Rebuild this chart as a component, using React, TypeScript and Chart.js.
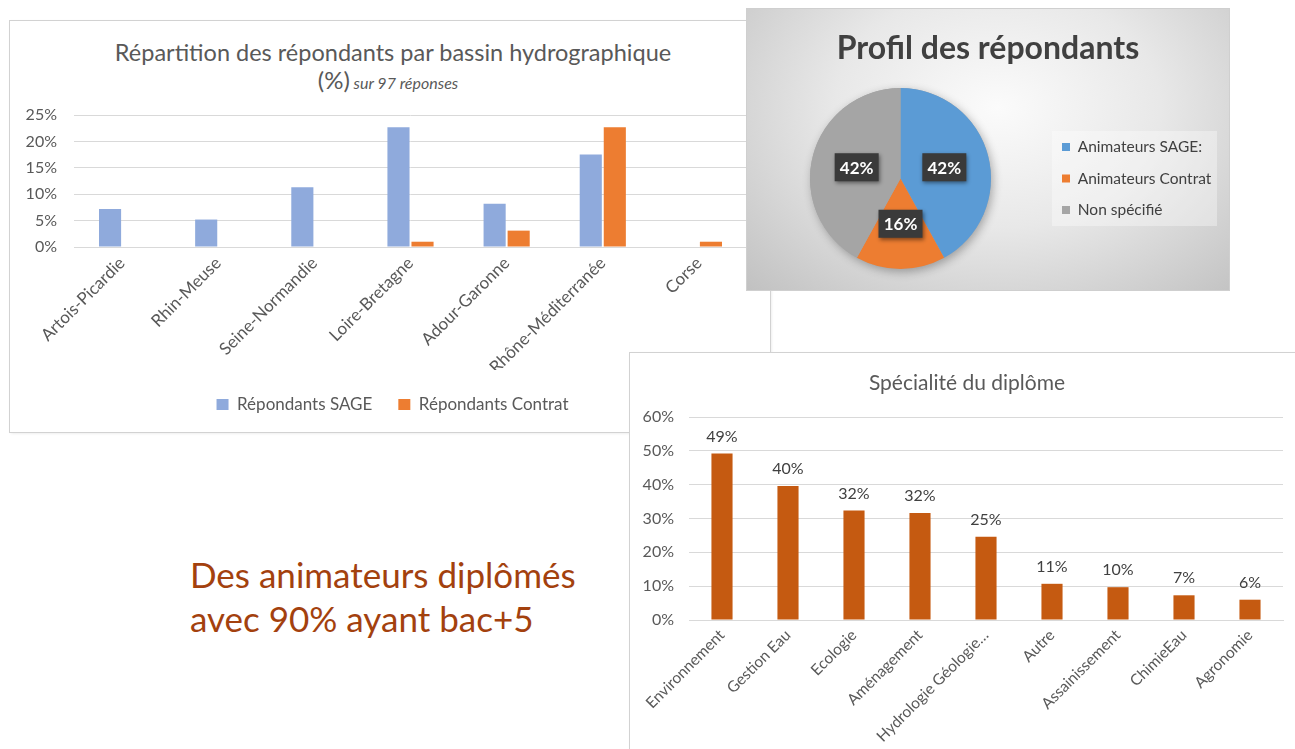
import React, { useEffect, useRef } from 'react';
import { Chart, registerables } from 'chart.js';

Chart.register(...registerables);

const FONT = 'Lato, "Open Sans", sans-serif';
Chart.defaults.font.family = FONT;
Chart.defaults.color = '#595959';

// ---- Chart 1: Répartition par bassin hydrographique ----
const basinCategories = [
  'Artois-Picardie',
  'Rhin-Meuse',
  'Seine-Normandie',
  'Loire-Bretagne',
  'Adour-Garonne',
  'Rhône-Méditerranée',
  'Corse',
];
const sageValues = [7.2, 5.2, 11.3, 22.7, 8.2, 17.5, null];
const contratValues = [null, null, null, 1.0, 3.1, 22.7, 1.0];
const basinSeriesNames = ['Répondants SAGE', 'Répondants Contrat'];
const basinMax = 25;
const basinStep = 5;

// ---- Chart 2: Profil des répondants ----
const profileLabels = ['Animateurs SAGE:', 'Animateurs Contrat', 'Non spécifié'];
const profileValues = [42, 16, 42];
const profileColors = ['#5B9BD5', '#ED7D31', '#A5A5A5'];

// ---- Chart 3: Spécialité du diplôme ----
const diplomaCategories = [
  'Environnement',
  'Gestion Eau',
  'Ecologie',
  'Aménagement',
  'Hydrologie Géologie…',
  'Autre',
  'Assainissement',
  'ChimieEau',
  'Agronomie',
];
const diplomaValues = [49.2, 39.6, 32.4, 31.6, 24.6, 10.7, 9.7, 7.3, 6.0];
const diplomaMax = 60;
const diplomaStep = 10;

const pct = (v: any) => v + '%';

const legendShiftPlugin = {
  id: 'legendShift',
  afterLayout(chart: any) {
    const lg = chart.legend;
    if (!lg) return;
    lg.left += 14;
    lg.right += 14;
  },
};

const pieShadowPlugin = {
  id: 'pieShadow',
  beforeDatasetsDraw(chart: any) {
    const arc = chart.getDatasetMeta(0).data[0];
    if (!arc) return;
    const ctx = chart.ctx;
    ctx.save();
    ctx.shadowColor = 'rgba(0,0,0,0.3)';
    ctx.shadowBlur = 10;
    ctx.shadowOffsetX = 2;
    ctx.shadowOffsetY = 3;
    ctx.fillStyle = '#a5a5a5';
    ctx.beginPath();
    ctx.arc(arc.x, arc.y, arc.outerRadius, 0, Math.PI * 2);
    ctx.fill();
    ctx.restore();
  },
};

const pieLabelPlugin = {
  id: 'pieLabels',
  afterDatasetsDraw(chart: any) {
    const ctx = chart.ctx;
    const data = chart.data.datasets[0].data as number[];
    const total = data.reduce((a, b) => a + b, 0);
    chart.getDatasetMeta(0).data.forEach((arc: any, i: number) => {
      const p = arc.tooltipPosition(false);
      const txt = Math.round((data[i] / total) * 100) + '%';
      ctx.save();
      ctx.shadowColor = 'rgba(0,0,0,0.45)';
      ctx.shadowBlur = 4;
      ctx.shadowOffsetX = 1;
      ctx.shadowOffsetY = 2;
      ctx.fillStyle = '#3a3a3a';
      ctx.fillRect(p.x - 22, p.y - 14, 44, 28);
      ctx.restore();
      ctx.save();
      ctx.fillStyle = '#ffffff';
      ctx.font = 'bold 17px ' + FONT;
      ctx.textAlign = 'center';
      ctx.textBaseline = 'middle';
      ctx.fillText(txt, p.x, p.y + 1);
      ctx.restore();
    });
  },
};

const barValuePlugin = {
  id: 'barValues',
  afterDatasetsDraw(chart: any) {
    const ctx = chart.ctx;
    const data = chart.data.datasets[0].data as number[];
    chart.getDatasetMeta(0).data.forEach((bar: any, i: number) => {
      ctx.save();
      ctx.fillStyle = '#404040';
      ctx.font = '16px ' + FONT;
      ctx.textAlign = 'center';
      ctx.textBaseline = 'middle';
      ctx.fillText(Math.round(data[i]) + '%', bar.x, bar.y - 17);
      ctx.restore();
    });
  },
};

export default function App() {
  const c1 = useRef<HTMLCanvasElement>(null);
  const c2 = useRef<HTMLCanvasElement>(null);
  const c3 = useRef<HTMLCanvasElement>(null);

  useEffect(() => {
    const chart1 = new Chart(c1.current!, {
      type: 'bar',
      data: {
        labels: basinCategories,
        datasets: [
          {
            label: basinSeriesNames[0],
            data: sageValues,
            backgroundColor: '#8FAADC',
            categoryPercentage: 0.5,
            barPercentage: 0.92,
          },
          {
            label: basinSeriesNames[1],
            data: contratValues,
            backgroundColor: '#ED7D31',
            categoryPercentage: 0.5,
            barPercentage: 0.92,
          },
        ],
      },
      options: {
        responsive: false,
        animation: false,
        layout: { padding: { left: 0, right: 23, top: 94, bottom: 9 } },
        plugins: {
          legend: {
            position: 'bottom',
            labels: {
              boxWidth: 12,
              boxHeight: 11,
              padding: 26,
              font: { size: 17 },
              color: '#595959',
            },
          },
          tooltip: { enabled: false },
        },
        scales: {
          x: {
            grid: { display: false, drawTicks: false },
            border: { color: '#d9d9d9' },
            ticks: {
              autoSkip: false,
              minRotation: 45,
              maxRotation: 45,
              padding: 6,
              font: { size: 17 },
              color: '#595959',
            },
            afterFit: (s: any) => {
              s.height = 123;
            },
          },
          y: {
            min: 0,
            max: basinMax,
            ticks: {
              stepSize: basinStep,
              padding: 17,
              callback: pct,
              font: { size: 16 },
              color: '#595959',
            },
            grid: { color: '#d9d9d9', drawTicks: false },
            border: { display: false },
            afterFit: (s: any) => {
              s.width = 64;
            },
          },
        },
      },
      plugins: [legendShiftPlugin],
    } as any);

    // pie legend geometry
    const W2 = 560;
    const legendFont = 15.5;
    const mctx = document.createElement('canvas').getContext('2d')!;
    mctx.font = legendFont + 'px ' + FONT;
    const maxW = Math.max(...profileLabels.map((t) => mctx.measureText(t).width));
    const legendPad = 16;
    const legendBox = 8;
    const legendLeft = 299;
    const legendWidth = legendPad + legendBox + legendFont / 2 + maxW + 10;
    const padRight = W2 - legendLeft - legendWidth;

    const chart2 = new Chart(c2.current!, {
      type: 'pie',
      data: {
        labels: profileLabels,
        datasets: [
          {
            data: profileValues,
            backgroundColor: profileColors,
            borderWidth: 0,
          },
        ],
      },
      options: {
        responsive: false,
        animation: false,
        layout: { padding: { left: 8, top: 79, bottom: 21, right: padRight } },
        plugins: {
          legend: {
            position: 'right',
            labels: {
              boxWidth: legendBox,
              boxHeight: legendBox,
              padding: legendPad,
              font: { size: legendFont },
              color: '#404040',
            },
          },
          tooltip: { enabled: false },
        },
      },
      plugins: [pieShadowPlugin, pieLabelPlugin],
    } as any);

    const chart3 = new Chart(c3.current!, {
      type: 'bar',
      data: {
        labels: diplomaCategories,
        datasets: [
          {
            label: 'Spécialité du diplôme',
            data: diplomaValues,
            backgroundColor: '#C55A11',
            categoryPercentage: 0.8,
            barPercentage: 0.4,
          },
        ],
      },
      options: {
        responsive: false,
        animation: false,
        layout: { padding: { left: 0, right: 21, top: 64, bottom: 0 } },
        plugins: {
          legend: { display: false },
          tooltip: { enabled: false },
        },
        scales: {
          x: {
            grid: { display: false, drawTicks: false },
            border: { color: '#d9d9d9' },
            ticks: {
              autoSkip: false,
              minRotation: 45,
              maxRotation: 45,
              padding: 6,
              font: { size: 15.5 },
              color: '#595959',
            },
            afterFit: (s: any) => {
              s.height = 133;
            },
          },
          y: {
            min: 0,
            max: diplomaMax,
            ticks: {
              stepSize: diplomaStep,
              padding: 15,
              callback: pct,
              font: { size: 16 },
              color: '#595959',
            },
            grid: { color: '#d9d9d9', drawTicks: false },
            border: { display: false },
            afterFit: (s: any) => {
              s.width = 59;
            },
          },
        },
      },
      plugins: [barValuePlugin],
    } as any);

    return () => {
      chart1.destroy();
      chart2.destroy();
      chart3.destroy();
    };
  }, []);

  const boxShadow = '0 0 0 1px #d2d2d2, 1px 1px 3px rgba(0,0,0,0.12)';

  return (
    <div
      style={{
        position: 'absolute',
        left: 0,
        top: 0,
        width: 1295,
        height: 749,
        overflow: 'hidden',
        background: '#ffffff',
        fontFamily: FONT,
      }}
    >
      {/* Chart 1 */}
      <div
        style={{
          position: 'absolute',
          left: 10,
          top: 21,
          width: 760,
          height: 411,
          background: '#fff',
          boxShadow,
          zIndex: 1,
        }}
      >
        <div
          style={{
            position: 'absolute',
            left: 0,
            top: 17,
            width: 766,
            textAlign: 'center',
            fontSize: 23.5,
            lineHeight: '28px',
            color: '#595959',
            whiteSpace: 'nowrap',
          }}
        >
          Répartition des répondants par bassin hydrographique
        </div>
        <div
          style={{
            position: 'absolute',
            left: 0,
            top: 45,
            width: 756,
            textAlign: 'center',
            lineHeight: '28px',
            color: '#595959',
            whiteSpace: 'nowrap',
          }}
        >
          <span style={{ fontSize: 24 }}>(%)</span>
          <span style={{ fontSize: 16, fontStyle: 'italic' }}> sur 97 réponses</span>
        </div>
        <canvas
          ref={c1}
          width={760}
          height={411}
          style={{ position: 'absolute', left: 0, top: 0, width: 760, height: 411 }}
        />
      </div>

      {/* Chart 3 */}
      <div
        style={{
          position: 'absolute',
          left: 630,
          top: 353,
          width: 674,
          height: 420,
          background: '#fff',
          boxShadow,
          zIndex: 2,
        }}
      >
        <div
          style={{
            position: 'absolute',
            left: 0,
            top: 17,
            width: 674,
            textAlign: 'center',
            fontSize: 21,
            lineHeight: '24px',
            color: '#595959',
            whiteSpace: 'nowrap',
          }}
        >
          Spécialité du diplôme
        </div>
        <canvas
          ref={c3}
          width={674}
          height={400}
          style={{ position: 'absolute', left: 0, top: 0, width: 674, height: 400 }}
        />
      </div>

      {/* Pie panel */}
      <div
        style={{
          position: 'absolute',
          left: 747,
          top: 9,
          width: 482,
          height: 281,
          overflow: 'hidden',
          background:
            'radial-gradient(ellipse 75% 95% at 52% 35%, #fbfbfb 0%, #e8e8e8 45%, #bfbfbf 100%)',
          boxShadow: '0 0 0 1px #cfcfcf',
          zIndex: 3,
        }}
      >
        <div
          style={{
            position: 'absolute',
            left: 0,
            top: 19,
            width: 482,
            textAlign: 'center',
            fontSize: 32,
            fontWeight: 'bold',
            lineHeight: '38px',
            color: '#404040',
            whiteSpace: 'nowrap',
          }}
        >
          Profil des répondants
        </div>
        <div
          style={{
            position: 'absolute',
            left: 305,
            top: 122,
            width: 165,
            height: 95,
            background: 'rgba(255,255,255,0.35)',
          }}
        />
        <canvas
          ref={c2}
          width={560}
          height={281}
          style={{ position: 'absolute', left: 0, top: 0, width: 560, height: 281 }}
        />
      </div>

      {/* Text */}
      <div
        style={{
          position: 'absolute',
          left: 190,
          top: 552,
          fontSize: 35,
          lineHeight: '44px',
          color: '#A3410E',
          whiteSpace: 'nowrap',
        }}
      >
        Des animateurs diplômés
        <br />
        avec 90% ayant bac+5
      </div>
    </div>
  );
}
